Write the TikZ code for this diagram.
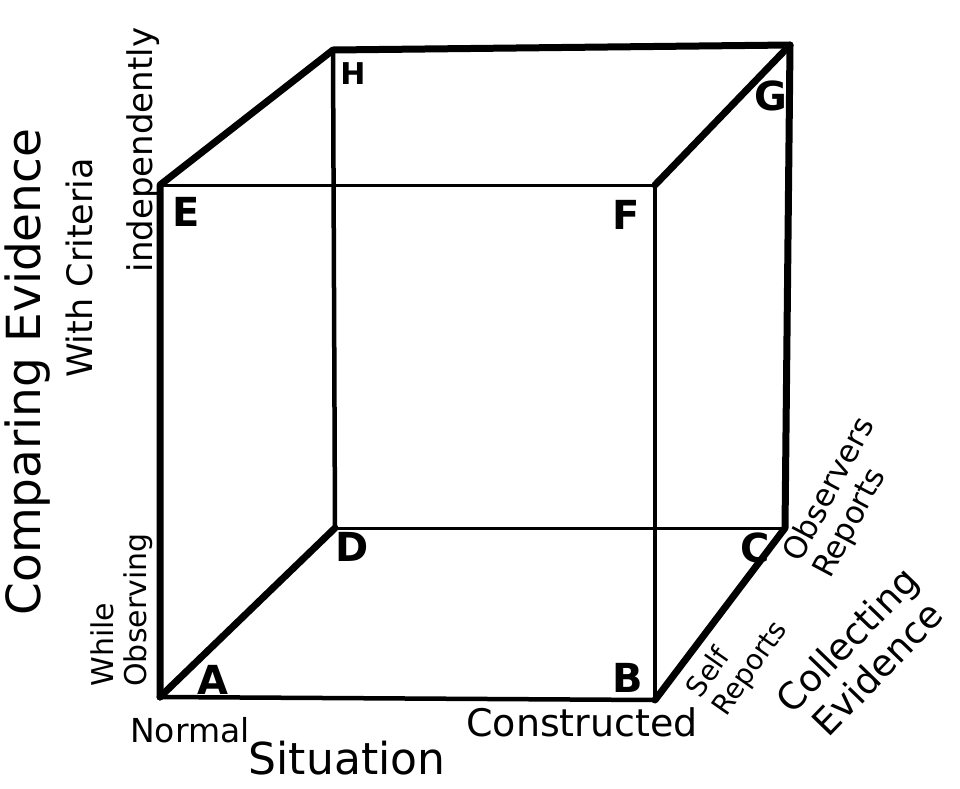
\documentclass[tikz,border=0pt]{standalone}
\usepackage{fontspec}
\setmainfont{DejaVu Sans}
\begin{document}
\begin{tikzpicture}[
    x=1pt, y=-1pt,
    heavy/.style = { line width=7pt, line cap=round, line join=round },
    medium/.style = { line width=4.5pt, line cap=round },
    light/.style = { line width=3pt, line cap=round },
    corner/.style = { font=\fontsize{#1}{#1}\selectfont\bfseries, inner sep=0pt },
    corner/.default = 40,
    hand/.style = { font=\fontsize{#1}{#1}\selectfont, inner sep=0pt },
    ]
    \useasboundingbox (0,0) rectangle (960,788);

    % corners of the cube
    \coordinate (A) at (160, 697);
    \coordinate (B) at (655, 700);
    \coordinate (C) at (785, 528);
    \coordinate (D) at (335, 528);
    \coordinate (E) at (160, 185);
    \coordinate (F) at (655, 185);
    \coordinate (G) at (790, 45);
    \coordinate (H) at (333, 50);

    % hidden edges
    \draw[light] (D) -- (C);
    \draw[medium] (H) -- (D);

    % front face
    \draw[light] (E) -- (F);
    \draw[medium] (A) -- (B);
    \draw[medium] (F) -- (B);

    % heavy edges
    \draw[heavy] (A) -- (E) -- (H) -- (G) -- (C) -- (B);
    \draw[heavy] (A) -- (D);
    \draw[heavy] (F) -- (G);

    % corner letters
    \node[corner] (labA) at (213, 680) {A};
    \node[corner] (labB) at (628, 678) {B};
    \node[corner] (labC) at (755, 548) {C};
    \node[corner] (labD) at (352, 547) {D};
    \node[corner] (labE) at (186, 212) {E};
    \node[corner] (labF) at (626, 215) {F};
    \node[corner] (labG) at (771, 96) {G};
    \node[corner=30] (labH) at (353, 74) {H};

    % vertical axis
    \node[hand=47, rotate=90] (compare) at (28, 372) {Comparing Evidence};
    \node[hand=35, rotate=90] (criteria) at (79, 268) {With Criteria};
    \node[hand=34, rotate=90] (indep) at (143, 150) {independently};
    \node[hand=30, rotate=90, align=left] (observe) at (122, 610) {While\\[3pt]Observing};

    % horizontal axis
    \node[hand=33] (normal) at (190, 730) {Normal};
    \node[hand=38] (constr) at (582, 722) {Constructed};
    \node[hand=44] (situation) at (347, 758) {Situation};

    % depth axis
    \node[hand=28, rotate=55, align=left] (self) at (738, 660) {Self\\[3pt]Reports};
    \node[hand=31, rotate=62, align=left] (observers) at (845, 498) {Observers\\[3pt]Reports};
    \node[hand=37, rotate=46, align=center] (collect) at (862, 654) {Collecting\\[5pt]Evidence};

\end{tikzpicture}
\end{document}
